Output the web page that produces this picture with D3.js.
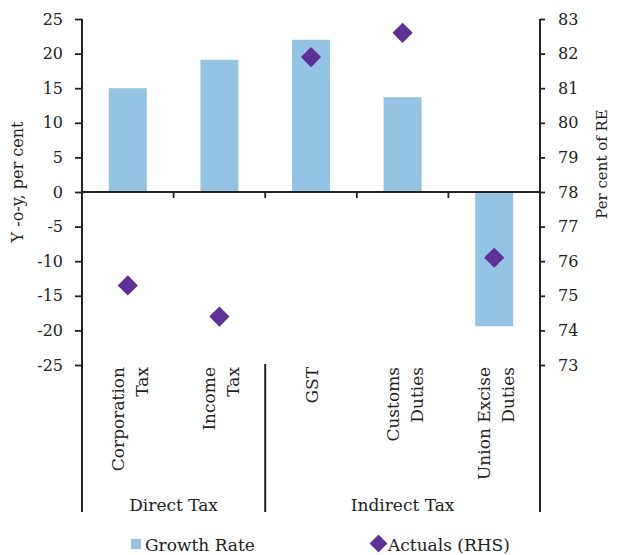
<!DOCTYPE html>
<html>
<head>
<meta charset="utf-8">
<script src="https://cdn.jsdelivr.net/npm/d3@7"></script>
<style>
  body { margin: 0; background: #fff; }
  svg { display: block; }
  text { font-family: "DejaVu Serif", serif; fill: #222; }
</style>
</head>
<body>
<svg id="chart" width="618" height="555"></svg>
<script>
// Tax categories and their two-level grouping
const categories = ["Corporation Tax", "Income Tax", "GST", "Customs Duties", "Union Excise Duties"];
const categoryLines = [["Corporation", "Tax"], ["Income", "Tax"], ["GST"], ["Customs", "Duties"], ["Union Excise", "Duties"]];
const groupNames = ["Direct Tax", "Indirect Tax"];
const groupSizes = [2, 3];

// Series: y-o-y growth (left axis) and actuals as per cent of RE (right axis)
const growthRate = [15.0, 19.1, 22.0, 13.7, -19.4];
const actualsRHS = [75.3, 74.4, 81.9, 82.6, 76.1];

// Axis ticks
const leftTicks = [25, 20, 15, 10, 5, 0, -5, -10, -15, -20, -25];
const rightTicks = [83, 82, 81, 80, 79, 78, 77, 76, 75, 74, 73];

const BAR_COLOR = "#93c4e3";
const DOT_COLOR = "#5f3197";
const INK = "#222";

const svg = d3.select("#chart");
const plot = { left: 82, right: 540, top: 19, bottom: 365, base: 512 };

const x = d3.scaleBand().domain(categories).range([plot.left, plot.right]).padding(0);
const yL = d3.scaleLinear().domain([-25, 25]).range([plot.bottom, plot.top]);
const yR = d3.scaleLinear().domain([73, 83]).range([plot.bottom, plot.top]);

const barW = x.bandwidth() * 0.415;

// Bars
svg.append("g").selectAll("rect")
  .data(categories.map((c, i) => ({ c, v: growthRate[i] })))
  .join("rect")
  .attr("x", d => x(d.c) + (x.bandwidth() - barW) / 2)
  .attr("y", d => yL(Math.max(0, d.v)))
  .attr("width", barW)
  .attr("height", d => Math.abs(yL(d.v) - yL(0)))
  .attr("fill", BAR_COLOR);

// Left axis
const gL = svg.append("g").attr("transform", `translate(${plot.left},0)`)
  .call(d3.axisLeft(yL).tickValues(leftTicks).tickSize(7).tickPadding(12).tickFormat(d => String(d)));
gL.select(".domain").remove();
gL.selectAll(".tick line").attr("stroke", INK).attr("stroke-width", 1.8);
gL.selectAll(".tick text").style("font-family", "DejaVu Serif").style("font-size", "16px").attr("fill", INK);

// Right axis
const gR = svg.append("g").attr("transform", `translate(${plot.right},0)`)
  .call(d3.axisRight(yR).tickValues(rightTicks).tickSize(5).tickPadding(13).tickFormat(d => String(d)));
gR.select(".domain").remove();
gR.selectAll(".tick line").attr("stroke", INK).attr("stroke-width", 1.8);
gR.selectAll(".tick text").style("font-family", "DejaVu Serif").style("font-size", "16px").attr("fill", INK);

// Vertical frame lines, running down through the category label area
[plot.left, plot.right].forEach(px => {
  svg.append("line").attr("x1", px).attr("x2", px).attr("y1", plot.top).attr("y2", plot.base)
    .attr("stroke", INK).attr("stroke-width", 2);
});

// Zero line with category boundary ticks
const y0 = yL(0);
svg.append("line").attr("x1", plot.left).attr("x2", plot.right).attr("y1", y0).attr("y2", y0)
  .attr("stroke", INK).attr("stroke-width", 2.2);
svg.append("g").selectAll("line")
  .data(categories.slice(1))
  .join("line")
  .attr("x1", d => x(d)).attr("x2", d => x(d))
  .attr("y1", y0).attr("y2", y0 + 6)
  .attr("stroke", INK).attr("stroke-width", 1.8);

// Category labels (rotated, wrapped)
categories.forEach((c, i) => {
  const cx = x(c) + x.bandwidth() / 2;
  const lines = categoryLines[i];
  const offs = lines.length === 1 ? [7] : [-4, 20];
  lines.forEach((ln, j) => {
    svg.append("text")
      .attr("transform", `translate(${cx + offs[j]},367) rotate(-90)`)
      .attr("text-anchor", "end")
      .style("font-size", "17px")
      .text(ln);
  });
});

// Group separators and labels
let start = 0;
groupNames.forEach((g, gi) => {
  const first = categories[start];
  const last = categories[start + groupSizes[gi] - 1];
  const x0 = x(first);
  const x1 = x(last) + x.bandwidth();
  if (gi > 0) {
    svg.append("line").attr("x1", x0).attr("x2", x0).attr("y1", plot.bottom - 1).attr("y2", plot.base)
      .attr("stroke", INK).attr("stroke-width", 2);
  }
  svg.append("text")
    .attr("x", (x0 + x1) / 2).attr("y", 511)
    .attr("text-anchor", "middle")
    .style("font-size", "17px")
    .text(g);
  start += groupSizes[gi];
});

// Diamonds for actuals (RHS)
const diamond = d3.symbol(d3.symbolSquare, 165);
svg.append("g").selectAll("path")
  .data(categories.map((c, i) => ({ c, v: actualsRHS[i] })))
  .join("path")
  .attr("d", diamond)
  .attr("transform", d => `translate(${x(d.c) + x.bandwidth() / 2},${yR(d.v)}) rotate(45)`)
  .attr("fill", DOT_COLOR)
  .attr("stroke", DOT_COLOR)
  .attr("stroke-width", 1.5)
  .attr("stroke-linejoin", "round");

// Axis titles
svg.append("text")
  .attr("transform", "translate(23,182) rotate(-90)")
  .attr("text-anchor", "middle")
  .style("font-size", "16px")
  .text("Y -o-y, per cent");
svg.append("text")
  .attr("transform", "translate(607,164) rotate(-90)")
  .attr("text-anchor", "middle")
  .style("font-size", "15px")
  .text("Per cent of RE");

// Legend
const leg = svg.append("g");
leg.append("rect").attr("x", 131).attr("y", 539).attr("width", 10).attr("height", 10).attr("fill", BAR_COLOR);
leg.append("text").attr("x", 145).attr("y", 551).style("font-size", "17px").text("Growth Rate");
leg.append("path")
  .attr("d", d3.symbol(d3.symbolSquare, 130))
  .attr("transform", "translate(378.5,543.5) rotate(45)")
  .attr("fill", DOT_COLOR).attr("stroke", DOT_COLOR).attr("stroke-width", 1.2).attr("stroke-linejoin", "round");
leg.append("text").attr("x", 388).attr("y", 551).style("font-size", "17px").text("Actuals (RHS)");
</script>
</body>
</html>
